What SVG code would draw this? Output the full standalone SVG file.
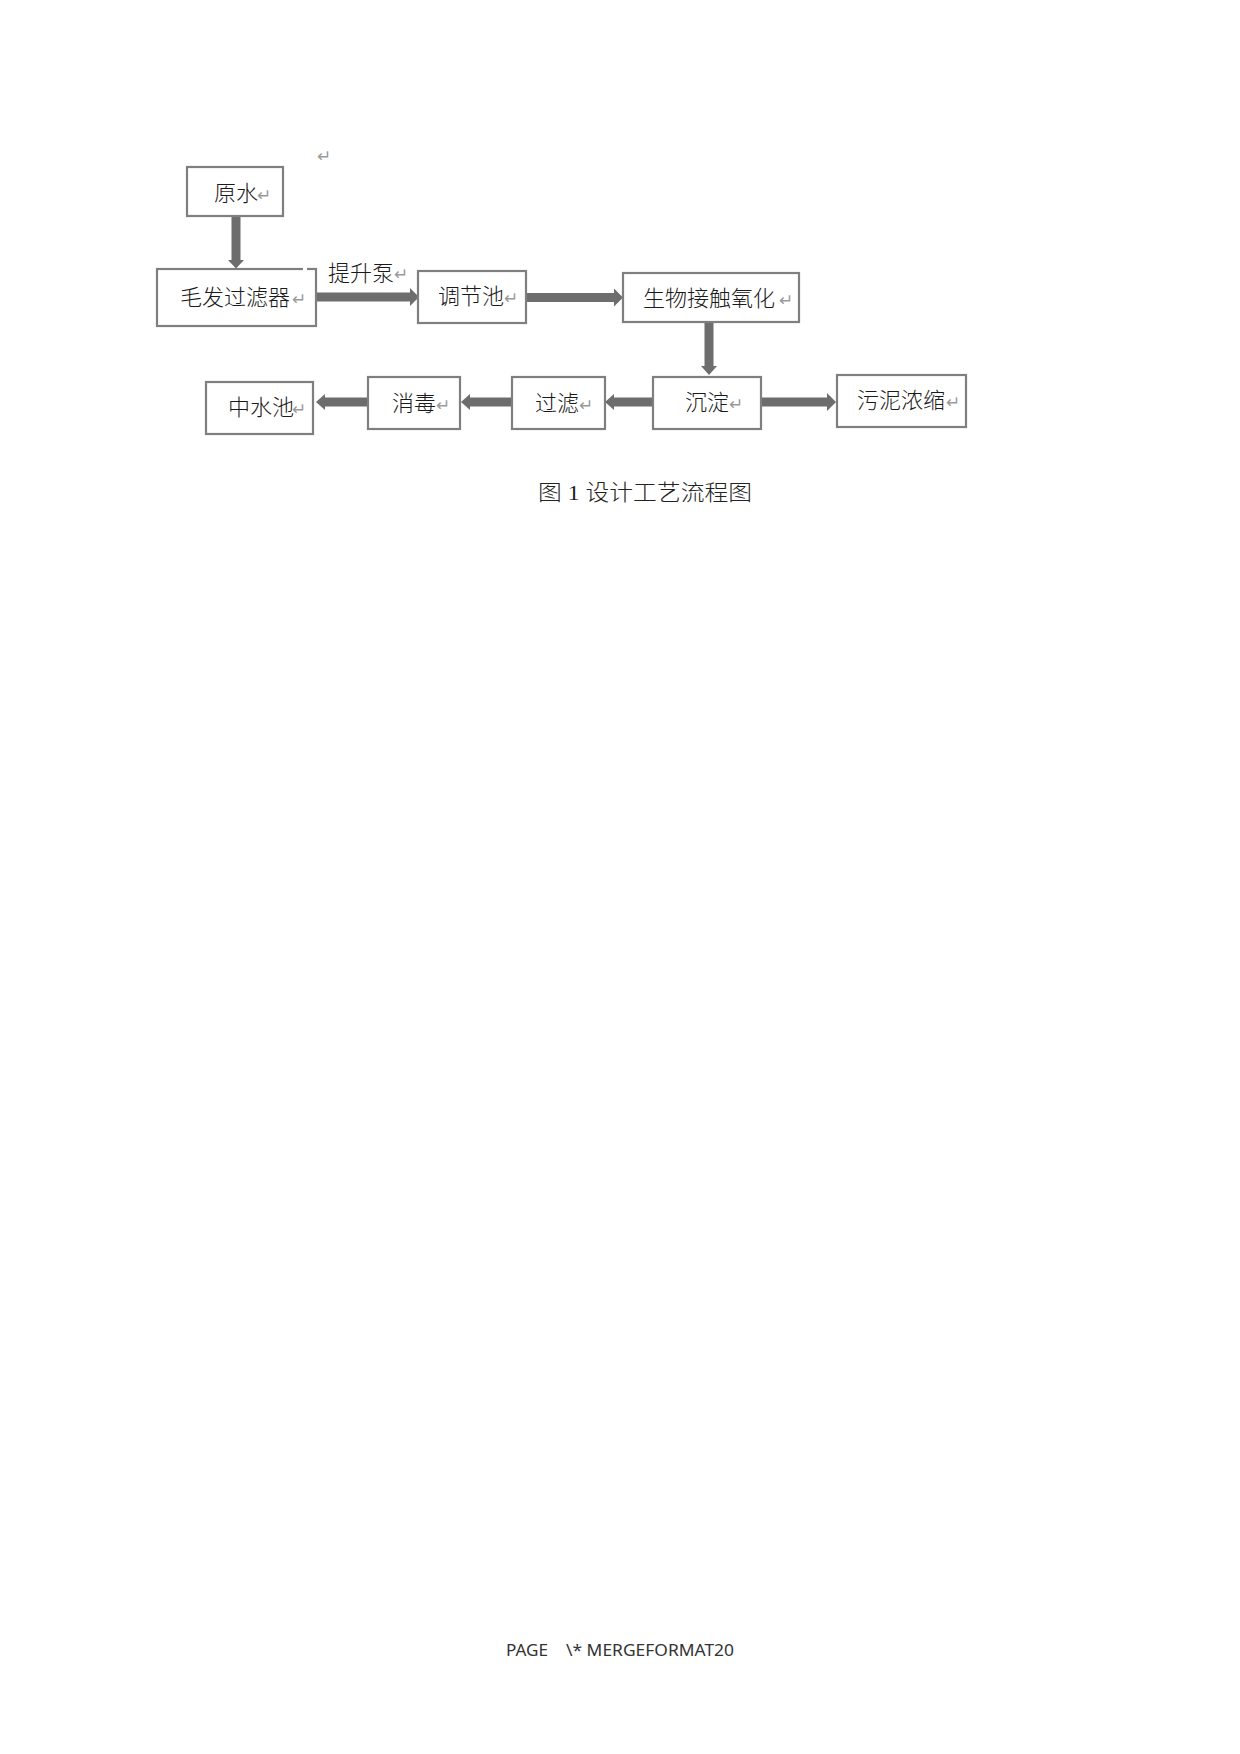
<svg xmlns="http://www.w3.org/2000/svg" width="1240" height="1754" viewBox="0 0 1240 1754">
<style>
.box{fill:#fff;stroke:#7f7f7f;stroke-width:2.2}
.lbl{font-family:"Noto Sans CJK SC","Noto Sans",sans-serif;font-size:22px;font-weight:300;fill:#1a1a1a}
.ret{font-family:"DejaVu Sans",sans-serif;font-size:17px;fill:#9a9a9a}
.arr{fill:#6d6d6d}
.cap{font-family:"Liberation Serif","Noto Sans CJK SC",serif;font-size:22px;font-weight:300;fill:#222}
.foot{font-family:"Noto Sans","Liberation Sans",sans-serif;font-size:16px;fill:#333}
</style>
<rect width="1240" height="1754" fill="#fff"/>
<text class="ret" x="317" y="162">↵</text>

<g id="connectors">
  <polygon class="arr" points="231.5,216 240.5,216 240.5,260 244,260 236,268.5 228,260 231.5,260"/>
  <polygon class="arr" points="316,292.5 410,292.5 410,288 419,297 410,306 410,301.5 316,301.5"/>
  <polygon class="arr" points="526,293 614,293 614,288.5 623,297.5 614,306.5 614,302 526,302"/>
  <polygon class="arr" points="704.5,322 713.5,322 713.5,366 717,366 709,375 701,366 704.5,366"/>
  <polygon class="arr" points="761,397.5 827,397.5 827,393 836,402 827,411 827,406.5 761,406.5"/>
  <polygon class="arr" points="653,397.5 614,397.5 614,394 605,402 614,410 614,406.5 653,406.5"/>
  <polygon class="arr" points="512,397.5 470,397.5 470,394 461,402 470,410 470,406.5 512,406.5"/>
  <polygon class="arr" points="368,397.5 325,397.5 325,394 316,402 325,410 325,406.5 368,406.5"/>
  <g id="pump-label">
    <text class="lbl" x="328" y="281">提升泵</text>
    <text class="ret" x="394" y="280">↵</text>
  </g>
</g>

<g id="n-raw">
  <rect class="box" x="187" y="167" width="96" height="49"/>
  <text class="lbl" x="214" y="201">原水</text>
  <text class="ret" x="257" y="201">↵</text>
</g>
<g id="n-hair">
  <rect class="box" x="157" y="269" width="159" height="57"/>
  <rect x="303" y="267" width="4" height="4" fill="#fff"/>
  <text class="lbl" x="180" y="305">毛发过滤器</text>
  <text class="ret" x="292" y="305">↵</text>
  <rect x="311" y="289" width="2" height="14" fill="#fff"/>
</g>
<g id="n-tank">
  <rect class="box" x="418" y="271" width="108" height="52"/>
  <text class="lbl" x="438" y="304">调节池</text>
  <text class="ret" x="504" y="304">↵</text>
</g>
<g id="n-bio">
  <rect class="box" x="623" y="273" width="176" height="49"/>
  <text class="lbl" x="643" y="306">生物接触氧化</text>
  <text class="ret" x="779" y="306">↵</text>
</g>
<g id="n-settle">
  <rect class="box" x="653" y="377" width="108" height="52"/>
  <text class="lbl" x="685" y="410">沉淀</text>
  <text class="ret" x="729" y="410">↵</text>
</g>
<g id="n-sludge">
  <rect class="box" x="837" y="375" width="129" height="52"/>
  <text class="lbl" x="857" y="408">污泥浓缩</text>
  <text class="ret" x="946" y="408">↵</text>
</g>
<g id="n-filter">
  <rect class="box" x="512" y="377" width="93" height="52"/>
  <text class="lbl" x="535" y="411">过滤</text>
  <text class="ret" x="579" y="411">↵</text>
</g>
<g id="n-disinfect">
  <rect class="box" x="368" y="377" width="92" height="52"/>
  <text class="lbl" x="392" y="411">消毒</text>
  <text class="ret" x="436" y="411">↵</text>
</g>
<g id="n-reuse">
  <rect class="box" x="206" y="382" width="107" height="52"/>
  <text class="lbl" x="228" y="415">中水池</text>
  <text class="ret" x="292" y="415">↵</text>
</g>

<text class="cap" x="538" y="500" textLength="214" lengthAdjust="spacingAndGlyphs">图 1 设计工艺流程图</text>
<text class="foot" x="506" y="1656" textLength="42" lengthAdjust="spacingAndGlyphs">PAGE</text>
<text class="foot" x="566" y="1656" textLength="168" lengthAdjust="spacingAndGlyphs">\* MERGEFORMAT20</text>
</svg>
